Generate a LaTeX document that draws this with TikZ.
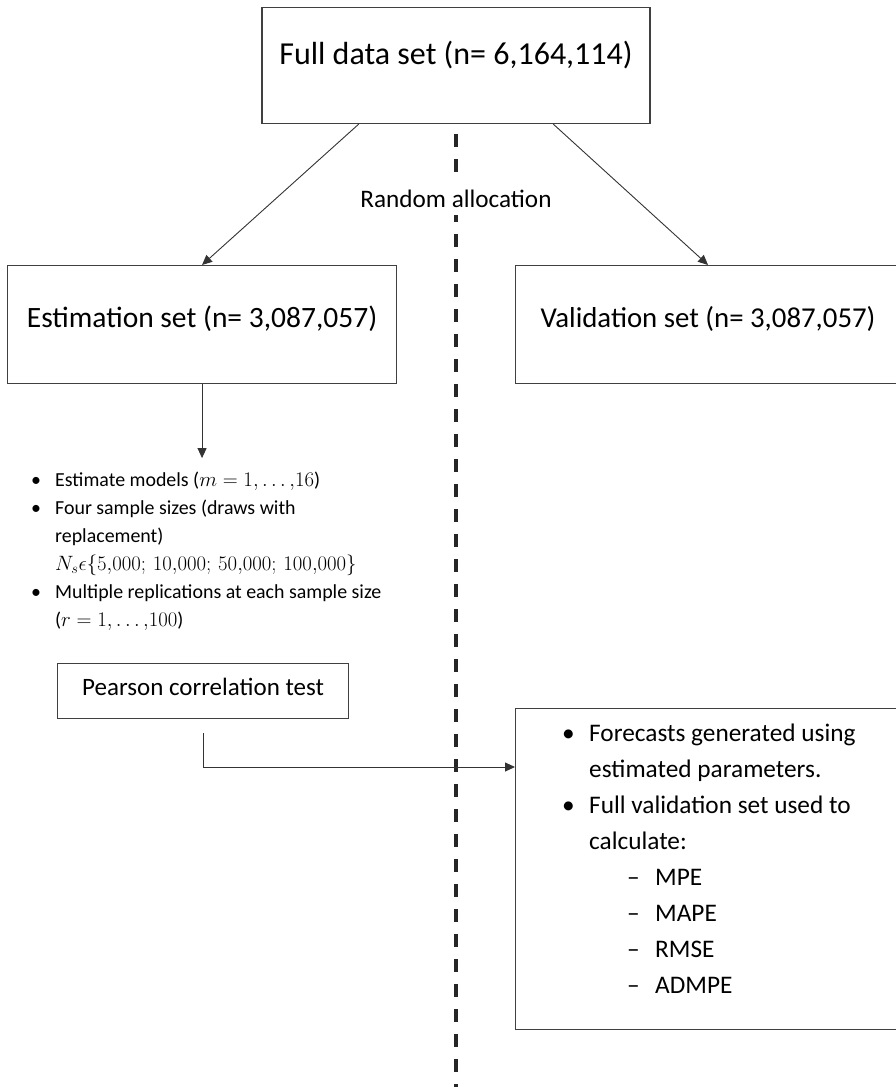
\documentclass[tikz,border=0pt]{standalone}
\usepackage{fontspec}
\setmainfont{Carlito}
\usetikzlibrary{arrows.meta,calc,positioning}
\newcommand{\fs}[2]{\fontsize{#1}{#2}\selectfont}
\tikzset{
  box/.style={draw=black!75, line width=1.1pt, inner sep=0pt},
  conn/.style={draw=black!80, line width=0.9pt, -{Triangle[length=10pt,width=9pt]}},
  divider/.style={draw=black!85, line width=3.5pt, dash pattern=on 13pt off 12pt},
}

\begin{document}
\begin{tikzpicture}[x=1pt,y=-1pt]
  \useasboundingbox (0,0) rectangle (896,1087);
  \node[box, anchor=north, minimum width=388pt, text height=57pt, text depth=59pt, font=\fs{32}{38}] (full) at (456,7) {Full data set (n= 6,164,114)};
  \node[box, anchor=north west, minimum width=389pt, text height=62pt, text depth=56pt, font=\fs{29.5}{35}] (est) at (7,265) {Estimation set (n= 3,087,057)};
  \node[box, anchor=north west, minimum width=385pt, text height=62pt, text depth=56pt, font=\fs{28.8}{35}] (val) at (515,265) {Validation set (n= 3,087,057)};
  \coordinate (divtop) at ($(full.south)+(0,10)$);
  \coordinate (divbot) at (456,1095);
  \draw[divider] (divtop) -- (divbot);
  \node[fill=white, inner xsep=4pt, inner ysep=8pt, anchor=base, font=\fs{25.2}{30}] (alloc) at (456,207) {Random allocation};
  \draw[conn] ($(full.south west)!0.25!(full.south east)$) -- (est.north);
  \draw[conn] ($(full.south west)!0.75!(full.south east)$) -- (val.north);
  % base of a multi-line node is its last line
  \node[anchor=base west, align=left, inner sep=0pt, font=\fs{19.9}{28}] (estlist) at (31,626) {%
    \makebox[24pt][l]{\textbullet}Estimate models ($m = 1{,}\ldots{,}16$)\\
    \makebox[24pt][l]{\textbullet}Four sample sizes (draws with\\
    \hspace*{24pt}replacement)\\
    \hspace*{24pt}$N_s\epsilon\{5{,}000;\,10{,}000;\,50{,}000;\,100{,}000\}$\\
    \makebox[24pt][l]{\textbullet}Multiple replications at each sample size\\
    \hspace*{24pt}($r = 1{,}\ldots{,}100$)};
  \draw[conn] (est.south) -- ++(0,74);
  \node[box, anchor=north west, minimum width=291pt, text height=32pt, text depth=23pt, font=\fs{25}{30}] (pearson) at (57,663) {Pearson correlation test};
  \node[box, anchor=north west, minimum width=385pt, minimum height=321pt] (fore) at (515,708) {};
  \node[anchor=base west, align=left, inner sep=0pt, font=\fs{25.3}{35.9}] (forelist) at (562,993) {%
    \makebox[27pt][l]{\textbullet}Forecasts generated using\\
    \hspace*{27pt}estimated parameters.\\
    \makebox[27pt][l]{\textbullet}Full validation set used to\\
    \hspace*{27pt}calculate:\\
    \hspace*{65pt}\makebox[28pt][l]{\textendash}MPE\\
    \hspace*{65pt}\makebox[28pt][l]{\textendash}MAPE\\
    \hspace*{65pt}\makebox[28pt][l]{\textendash}RMSE\\
    \hspace*{65pt}\makebox[28pt][l]{\textendash}ADMPE};
  \draw[conn] ([yshift=-14pt]pearson.south) |- ([yshift=-59pt]fore.north west);
\end{tikzpicture}
\end{document}
